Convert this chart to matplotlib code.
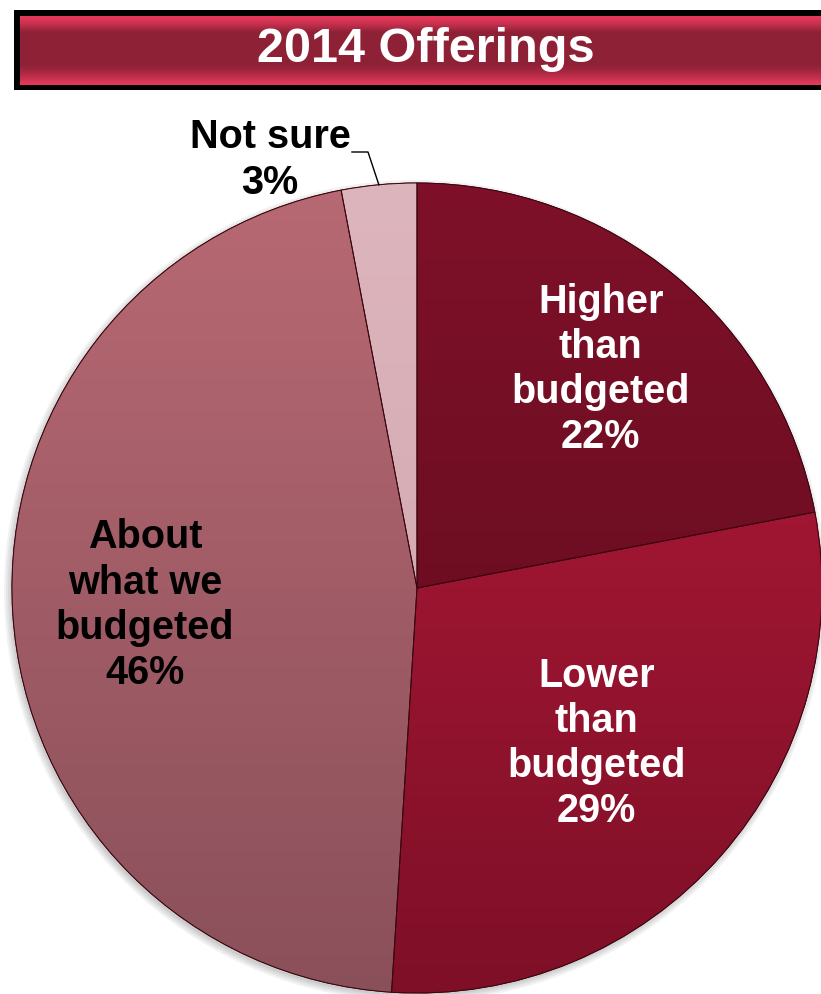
"""Pie chart of 2014 offerings versus budget, with a bevelled title banner."""
import matplotlib
matplotlib.use("Agg")
import matplotlib.pyplot as plt
import numpy as np
from matplotlib.colors import to_rgb
from matplotlib.patches import Circle, Rectangle, Wedge

plt.rcParams["font.family"] = ["Liberation Sans", "DejaVu Sans"]

title = "2014 Offerings"
categories = ["Higher\nthan\nbudgeted", "Lower\nthan\nbudgeted", "About\nwhat we\nbudgeted", "Not sure"]
shares = [22, 29, 46, 3]

# top / bottom shade of each slice (vertical gradient)
slice_tops = ["#7E1129", "#B81B3A", "#B86973", "#DDB5BC"]
slice_bottoms = ["#5E0A1C", "#7E0F27", "#8A505A", "#CFA3AB"]
label_colors = ["white", "white", "black", "black"]
label_radius = [0.70, 0.58, 0.68, None]

W, H = 821, 994
CX, CY, R = 417, 406, 405   # pixel coords, y up


def vertical_gradient(top, bottom, n=256):
    t = np.linspace(0, 1, n)[:, None]
    a, b = np.array(to_rgb(top)), np.array(to_rgb(bottom))
    return (a * (1 - t) + b * t)[:, None, :]


fig = plt.figure(figsize=(W / 100, H / 100), dpi=100)
ax = fig.add_axes([0, 0, 1, 1])

# soft shadow behind the pie
for k, a in enumerate([0.05, 0.05, 0.05, 0.06]):
    ax.add_patch(Circle((CX - 2, CY - 3), R + 6 - 2 * k, color="black", alpha=a, lw=0, zorder=0))

wedges, _ = ax.pie(
    shares, center=(CX, CY), radius=R, startangle=90, counterclock=False,
    colors=slice_tops, frame=True,
    wedgeprops=dict(edgecolor="#3a0610", linewidth=0.7),
)
ax.set_xlim(0, W)
ax.set_ylim(0, H)
ax.set_aspect("equal")
ax.axis("off")

for w, top, bot in zip(wedges, slice_tops, slice_bottoms):
    im = ax.imshow(vertical_gradient(top, bot), extent=(CX - R, CX + R, CY - R, CY + R),
                   aspect="auto", origin="upper", zorder=w.get_zorder() + 0.1)
    im.set_clip_path(w)
    ax.add_patch(Wedge((CX, CY), R, w.theta1, w.theta2, fill=False,
                       edgecolor="#3a0610", linewidth=0.7, zorder=w.get_zorder() + 0.2))

# slice labels
label_style = dict(ha="center", va="center", fontsize=28.5, fontweight="bold",
                   linespacing=1.24, zorder=5)
for w, name, pct, col, rd in zip(wedges, categories, shares, label_colors, label_radius):
    mid = np.deg2rad((w.theta1 + w.theta2) / 2)
    if rd is None:
        ex, ey = CX + R * np.cos(mid), CY + R * np.sin(mid)
        ax.plot([ex, 368, 352], [ey, H - 152, H - 152], color="black", lw=1.0, zorder=5)
        ax.text(270, H - 160, f"{name}\n{pct}%", color=col, **label_style)
        continue
    x, y = CX + rd * R * np.cos(mid), CY + rd * R * np.sin(mid)
    ax.text(x + 3, y, f"{name}\n{pct}%", color=col, **label_style)

# title banner
ax.add_patch(Rectangle((14, H - 90), W, 80, facecolor="black", edgecolor="none", zorder=6))
profile = np.array([0.0, 0.25, 0.6, 1, 1, 1, 1, 1, 1, 1, 1, 0.85, 0.6, 0.35, 0.0])
light, base = np.array(to_rgb("#E2385A")), np.array(to_rgb("#8E2136"))
band = (light * (1 - profile[:, None]) + base * profile[:, None])[:, None, :]
ax.imshow(band, extent=(20, W + 5, H - 85, H - 16), aspect="auto", origin="upper",
          interpolation="bilinear", zorder=7)
ax.text(426, H - 50, title, ha="center", va="center", fontsize=35, fontweight="bold",
        color="white", zorder=8)
ax.set_xlim(0, W)
ax.set_ylim(0, H)

fig.savefig("out.png", dpi=100)
